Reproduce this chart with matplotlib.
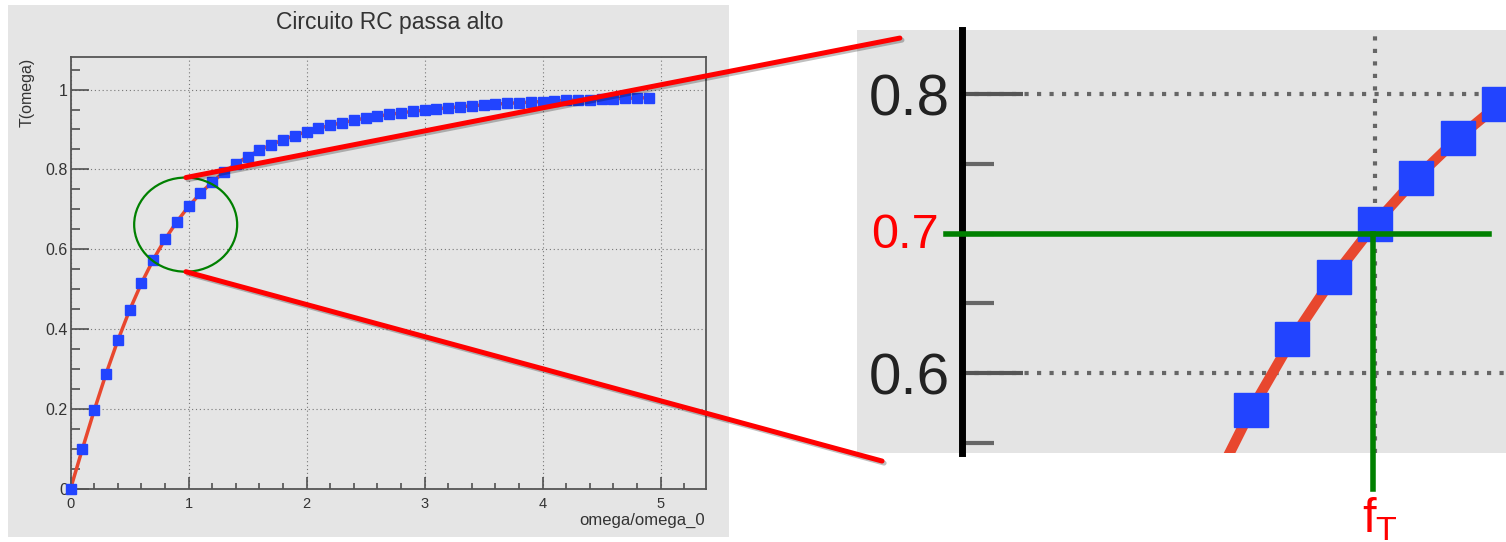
import numpy as np
import matplotlib
matplotlib.use("Agg")
import matplotlib.pyplot as plt
from matplotlib.patches import Ellipse, Rectangle, ConnectionPatch
from matplotlib.ticker import MultipleLocator, FixedLocator, FuncFormatter
import matplotlib.patheffects as pe

plt.rcParams['font.family'] = ['Liberation Sans', 'DejaVu Sans']

# dati (omega/omega_0, T(omega))
omega = [0.0, 0.1, 0.2, 0.3, 0.4, 0.5, 0.6, 0.7, 0.8, 0.9,
         1.0, 1.1, 1.2, 1.3, 1.4, 1.5, 1.6, 1.7, 1.8, 1.9,
         2.0, 2.1, 2.2, 2.3, 2.4, 2.5, 2.6, 2.7, 2.8, 2.9,
         3.0, 3.1, 3.2, 3.3, 3.4, 3.5, 3.6, 3.7, 3.8, 3.9,
         4.0, 4.1, 4.2, 4.3, 4.4, 4.5, 4.6, 4.7, 4.8, 4.9]
T = [0.0, 0.0995, 0.1961, 0.2873, 0.3714, 0.4472, 0.5145, 0.5735, 0.6247, 0.6690,
     0.7071, 0.7399, 0.7682, 0.7926, 0.8137, 0.8321, 0.8480, 0.8619, 0.8742, 0.8849,
     0.8944, 0.9029, 0.9104, 0.9171, 0.9231, 0.9285, 0.9333, 0.9377, 0.9417, 0.9454,
     0.9487, 0.9517, 0.9545, 0.9570, 0.9594, 0.9615, 0.9635, 0.9654, 0.9671, 0.9687,
     0.9701, 0.9715, 0.9728, 0.9740, 0.9751, 0.9762, 0.9772, 0.9781, 0.9790, 0.9798]

soglia = 0.7      # livello evidenziato
f_T = 0.995       # frequenza di taglio segnata nello zoom

blu = '#2244ff'
rosso_fit = '#e8472e'
grigio = '#e5e5e5'
testo = '#333333'

fig = plt.figure(figsize=(15.06, 5.42), dpi=100)

# sfondo del canvas di sinistra
fig.add_artist(Rectangle((0.0053, 0.0092), 0.4788, 0.9815, transform=fig.transFigure,
                         facecolor=grigio, edgecolor='none', zorder=0))

######## grafico principale ########
ax = fig.add_axes([0.0469, 0.0987, 0.4219, 0.7956])
ax.set_facecolor(grigio)
ax.plot(omega, T, color=rosso_fit, lw=2.5, zorder=2)
ax.plot(omega, T, ls='none', marker='s', ms=6.8, color=blu, mec=blu, zorder=3, clip_on=False)
ax.set_xlim(0, 5.385)
ax.set_ylim(0, 1.081)

ax.xaxis.set_major_locator(MultipleLocator(1))
ax.xaxis.set_minor_locator(MultipleLocator(0.2))
ax.yaxis.set_major_locator(MultipleLocator(0.2))
ax.yaxis.set_minor_locator(MultipleLocator(0.05))
fmt = FuncFormatter(lambda v, p: '%g' % round(v, 3))
ax.xaxis.set_major_formatter(fmt)
ax.yaxis.set_major_formatter(fmt)

ax.grid(True, which='major', ls=(0, (1, 2.5)), lw=0.8, color='#777777')
ax.tick_params(which='both', direction='in', top=False, right=False, color='#444444',
               width=1.1, labelcolor=testo)
ax.tick_params(axis='y', which='major', length=13, pad=2, labelsize=11.5)
ax.tick_params(axis='y', which='minor', length=6.5)
ax.tick_params(axis='x', which='major', length=8.6, pad=6, labelsize=10.5)
ax.tick_params(axis='x', which='minor', length=4)
for s in ax.spines.values():
    s.set_color('#555555')
    s.set_linewidth(1.3)

fig.text(0.259, 0.9585, 'Circuito RC passa alto', ha='center', va='center',
         fontsize=16.5, color=testo)
fig.text(0.018, 0.8943, 'T(omega)', rotation=90, ha='center', va='top',
         fontsize=11.5, color=testo)
fig.text(0.468, 0.0406, 'omega/omega_0', ha='right', va='center',
         fontsize=12, color=testo)

# cerchio verde sulla zona di taglio
cx, cy, cw, ch = 0.975, 0.6615, 0.873, 0.236
ax.add_patch(Ellipse((cx, cy), cw, ch, facecolor='none', edgecolor='green',
                     lw=1.6, zorder=4, clip_on=False))

######## zoom a destra ########
axz = fig.add_axes([0.5691, 0.1642, 0.4309, 0.7804])
axz.set_facecolor('#e4e4e4')
axz.plot(omega, T, color=rosso_fit, lw=7.5, zorder=2)
axz.plot(omega, T, ls='none', marker='s', ms=24.5, color=blu, mec=blu, zorder=3)
xl = (-0.254, 1.317)
axz.set_xlim(*xl)
axz.set_ylim(0.5427, 0.8459)

for k in ['top', 'right', 'bottom']:
    axz.spines[k].set_visible(False)
axz.spines['left'].set_position(('data', 0))
axz.spines['left'].set_color('black')
axz.spines['left'].set_linewidth(5)

axz.xaxis.set_major_locator(FixedLocator([1]))
axz.yaxis.set_major_locator(MultipleLocator(0.2))
axz.yaxis.set_minor_locator(MultipleLocator(0.05))
axz.yaxis.set_major_formatter(fmt)
axz.tick_params(axis='x', length=0, labelbottom=False)
axz.tick_params(axis='y', which='both', direction='in', color='#555555', width=3)
axz.tick_params(axis='y', which='major', length=44, pad=8.6, labelsize=42, labelcolor='#222222')
axz.tick_params(axis='y', which='minor', length=23, color='#666666')
# griglia: verticale con grid, orizzontale solo a destra dell'asse
axz.grid(True, axis='x', which='major', ls=(0, (1, 2)), lw=3, color='#666666')
yt = [v for v in axz.get_yticks() if axz.get_ylim()[0] <= v <= axz.get_ylim()[1]]
axz.hlines(yt, 0, xl[1], linestyles=[(0, (1, 2))], lw=3, color='#666666', zorder=1)

# linee verdi: soglia 0.7 e frequenza f_T
axz.plot([-0.039, 1.276], [soglia, soglia], color='green', lw=4, zorder=5, clip_on=False)
axz.plot([f_T, f_T], [soglia, 0.517], color='green', lw=4, zorder=5, clip_on=False)
axz.text(-0.056, 0.6896, '0.7', ha='right', va='baseline', color='red', fontsize=35,
         zorder=6, clip_on=False)
axz.text(1.012, 0.4853, r'f$_\mathregular{T}$', ha='center', va='baseline', color='red',
         fontsize=35, clip_on=False)

# linee rosse di collegamento cerchio -> zoom
ombra = [pe.SimpleLineShadow(offset=(1.5, -1.5), alpha=0.25), pe.Normal()]
for yA, xyB in [(cy + ch / 2, (0.066, 0.981)), (cy - ch / 2, (0.0385, -0.019))]:
    con = ConnectionPatch(xyA=(cx + 0.002, yA), coordsA=ax.transData,
                          xyB=xyB, coordsB=axz.transAxes,
                          color='red', lw=3.6, zorder=10)
    con.set_path_effects(ombra)
    fig.add_artist(con)

fig.savefig('out.png', dpi=100)
